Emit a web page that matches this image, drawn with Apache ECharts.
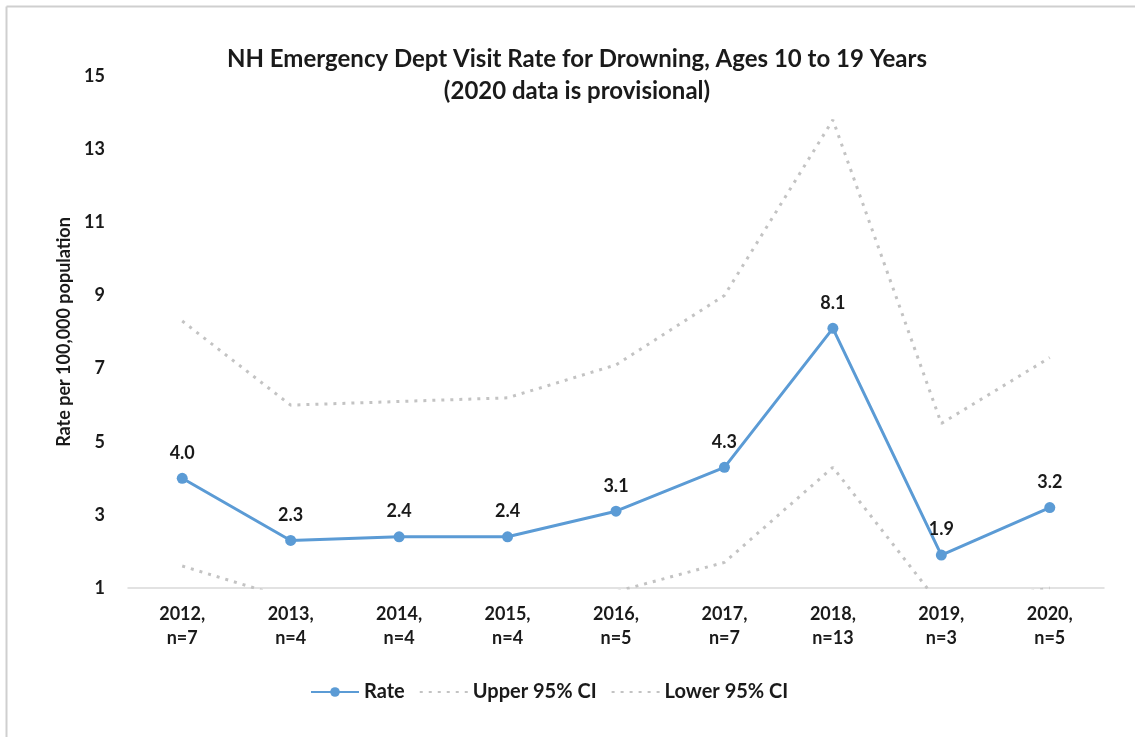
<!DOCTYPE html>
<html>
<head>
<meta charset="utf-8">
<script src="https://cdn.jsdelivr.net/npm/echarts@6/dist/echarts.min.js"></script>
<style>html,body{margin:0;padding:0;background:#fff;}#c{width:1135px;height:737px;}</style>
</head>
<body>
<div id="c"></div>
<script>
const categories = ['2012,\nn=7','2013,\nn=4','2014,\nn=4','2015,\nn=4','2016,\nn=5','2017,\nn=7','2018,\nn=13','2019,\nn=3','2020,\nn=5'];
const rate = [4.0, 2.3, 2.4, 2.4, 3.1, 4.3, 8.1, 1.9, 3.2];
const upperCI = [8.3, 6.0, 6.1, 6.2, 7.1, 9.0, 13.8, 5.5, 7.3];
const lowerCI = [1.6, 0.7, 0.7, 0.7, 0.9, 1.7, 4.3, 0.5, 1.0];
const yTicks = [1, 3, 5, 7, 9, 11, 13, 15];

const FONT = 'Lato';
const TXT = '#1a1a1a';
const chart = echarts.init(document.getElementById('c'), null, {renderer: 'canvas'});
chart.setOption({
  backgroundColor: '#fff',
  animation: false,
  textStyle: {fontFamily: FONT},
  title: {
    text: 'NH Emergency Dept Visit Rate for Drowning, Ages 10 to 19 Years\n(2020 data is provisional)',
    left: 572, top: 38, textAlign: 'center',
    textStyle: {fontFamily: FONT, fontWeight: 'bold', fontSize: 24, color: TXT, lineHeight: 32}
  },
  graphic: [
    {type: 'line', shape: {x1: 6.5, y1: 6.5, x2: 1135, y2: 6.5}, style: {stroke: '#cfcfcf', lineWidth: 2}},
    {type: 'line', shape: {x1: 6.5, y1: 6.5, x2: 6.5, y2: 737}, style: {stroke: '#cfcfcf', lineWidth: 2}}
  ],
  legend: {
    top: 677, left: 305,
    itemWidth: 48, itemHeight: 12, itemGap: 14,
    textStyle: {fontFamily: FONT, fontWeight: 'bold', fontSize: 20, color: TXT},
    data: [
      'Rate',
      {name: 'Upper 95% CI', itemStyle: {opacity: 0}},
      {name: 'Lower 95% CI', itemStyle: {opacity: 0}}
    ]
  },
  grid: {left: 128, right: 31, top: 76, bottom: 149},
  xAxis: {
    type: 'category', data: categories, boundaryGap: true,
    axisLine: {lineStyle: {color: '#d9d9d9', width: 1.5}},
    axisTick: {show: false},
    axisLabel: {fontFamily: FONT, fontWeight: 'bold', fontSize: 18, color: TXT, lineHeight: 24, margin: 14}
  },
  yAxis: {
    type: 'value', min: 1, max: 15, interval: 2,
    name: 'Rate per 100,000 population', nameLocation: 'middle', nameGap: 54,
    nameTextStyle: {fontFamily: FONT, fontWeight: 'bold', fontSize: 18, color: TXT},
    axisLine: {show: false}, axisTick: {show: false},
    splitLine: {show: false},
    axisLabel: {fontFamily: FONT, fontWeight: 'bold', fontSize: 18, color: TXT, margin: 23,
      formatter: v => yTicks.includes(v) ? String(v) : ''}
  },
  series: [
    {
      name: 'Upper 95% CI', type: 'line', data: upperCI, symbol: 'none', clip: true, z: 1,
      lineStyle: {color: '#c3c3c3', width: 3, type: [3, 6]},
      itemStyle: {color: '#c3c3c3'}
    },
    {
      name: 'Lower 95% CI', type: 'line', data: lowerCI, symbol: 'none', clip: true, z: 1,
      lineStyle: {color: '#c3c3c3', width: 3, type: [3, 6]},
      itemStyle: {color: '#c3c3c3'}
    },
    {
      name: 'Rate', type: 'line', data: rate, symbol: 'circle', symbolSize: 11, z: 3,
      lineStyle: {color: '#5b9bd5', width: 3},
      itemStyle: {color: '#5b9bd5'},
      label: {show: true, position: 'top', distance: 11, formatter: p => p.value.toFixed(1),
        fontFamily: FONT, fontWeight: 'bold', fontSize: 18, color: TXT}
    }
  ]
});
</script>
</body>
</html>
